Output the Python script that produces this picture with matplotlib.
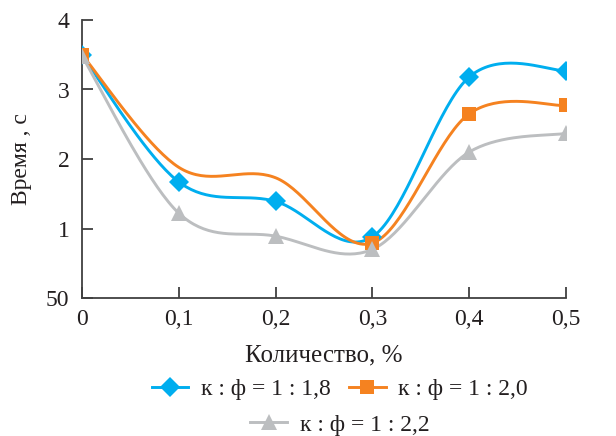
import numpy as np
import matplotlib
matplotlib.use("Agg")
import matplotlib.pyplot as plt
from matplotlib.lines import Line2D

plt.rcParams['font.family'] = ['Liberation Serif', 'DejaVu Serif']

# Data
amount = [0.0, 0.1, 0.2, 0.3, 0.4, 0.5]
time_18 = [3.49, 1.67, 1.39, 0.88, 3.18, 3.27]
time_20 = [3.50, 1.88, 1.73, 0.79, 2.65, 2.77]
time_22 = [3.48, 1.22, 0.89, 0.70, 2.10, 2.37]
labels = ["к : ф = 1 : 1,8", "к : ф = 1 : 2,0", "к : ф = 1 : 2,2"]
xtick_labels = ["0", "0,1", "0,2", "0,3", "0,4", "0,5"]
ytick_labels = ["50", "1", "2", "3", "4"]

colors = ["#00AEEF", "#F58220", "#BCBEC0"]
markers = ["D", "s", "^"]
msizes = [10.5, 9.5, 11]
TEXT = "#231F20"


def smooth(xs, ys, n=40):
    """Cardinal-spline (Bezier, tension 1/6) through the points."""
    pts = np.column_stack([xs, ys]).astype(float)
    padded = np.vstack([pts[0], pts, pts[-1]])
    t = np.linspace(0, 1, n)[:, None]
    out = []
    for i in range(len(pts) - 1):
        p0, p1, p2, p3 = padded[i], padded[i + 1], padded[i + 2], padded[i + 3]
        c1 = p1 + (p2 - p0) / 6.0
        c2 = p2 - (p3 - p1) / 6.0
        seg = ((1 - t) ** 3) * p1 + 3 * ((1 - t) ** 2) * t * c1 \
            + 3 * (1 - t) * t ** 2 * c2 + t ** 3 * p2
        out.append(seg if i == 0 else seg[1:])
    seg = np.vstack(out)
    return seg[:, 0], seg[:, 1]


fig = plt.figure(figsize=(6.16, 4.36), dpi=100)
ax = fig.add_axes([82 / 616, 1 - 298 / 436, (566 - 82) / 616, (298 - 20) / 436])

series = [time_18, time_20, time_22]
mark_idx = [None, [0, 3, 4, 5], None]
handles = []
for ys, c, m, ms, idx, lab in zip(series, colors, markers, msizes, mark_idx, labels):
    sx, sy = smooth(amount, ys)
    ax.plot(sx, sy, color=c, lw=2.1, zorder=2, solid_capstyle='round')
    px = amount if idx is None else [amount[i] for i in idx]
    py = ys if idx is None else [ys[i] for i in idx]
    ax.plot(px, py, linestyle='none', marker=m, markersize=ms, color=c,
            markeredgewidth=0, zorder=3)
    handles.append(Line2D([], [], color=c, lw=2.1, marker=m, markersize=ms,
                          markeredgewidth=0, label=lab))

ax.set_xlim(0, 0.5)
ax.set_ylim(0, 4)
ax.set_xticks(amount)
ax.set_xticklabels(xtick_labels)
ax.set_yticks([0, 1, 2, 3, 4])
ax.set_yticklabels(ytick_labels)

for s in ("top", "right"):
    ax.spines[s].set_visible(False)
for s in ("left", "bottom"):
    ax.spines[s].set_color("#404040")
    ax.spines[s].set_linewidth(1.3)
ax.tick_params(direction='in', length=8, width=1.3, color="#404040",
               labelsize=17, labelcolor=TEXT)
ax.tick_params(axis='x', pad=8)
ax.tick_params(axis='y', pad=9)

ax.set_xlabel("Количество, %", fontsize=18, color=TEXT, labelpad=10)
ax.set_ylabel("Время , с", fontsize=17, color=TEXT, labelpad=10)

leg_kw = dict(frameon=False, fontsize=17, handlelength=1.55,
              handletextpad=0.55, borderpad=0)
leg1 = fig.legend(handles=handles[:2], ncol=2, loc='center',
                  bbox_to_anchor=(340 / 616, 1 - 389 / 436),
                  columnspacing=0.75, **leg_kw)
leg2 = fig.legend(handles=handles[2:], loc='center',
                  bbox_to_anchor=(340 / 616, 1 - 425 / 436), **leg_kw)
for lg in (leg1, leg2):
    for t in lg.get_texts():
        t.set_color(TEXT)

fig.savefig("out.png", dpi=100)
